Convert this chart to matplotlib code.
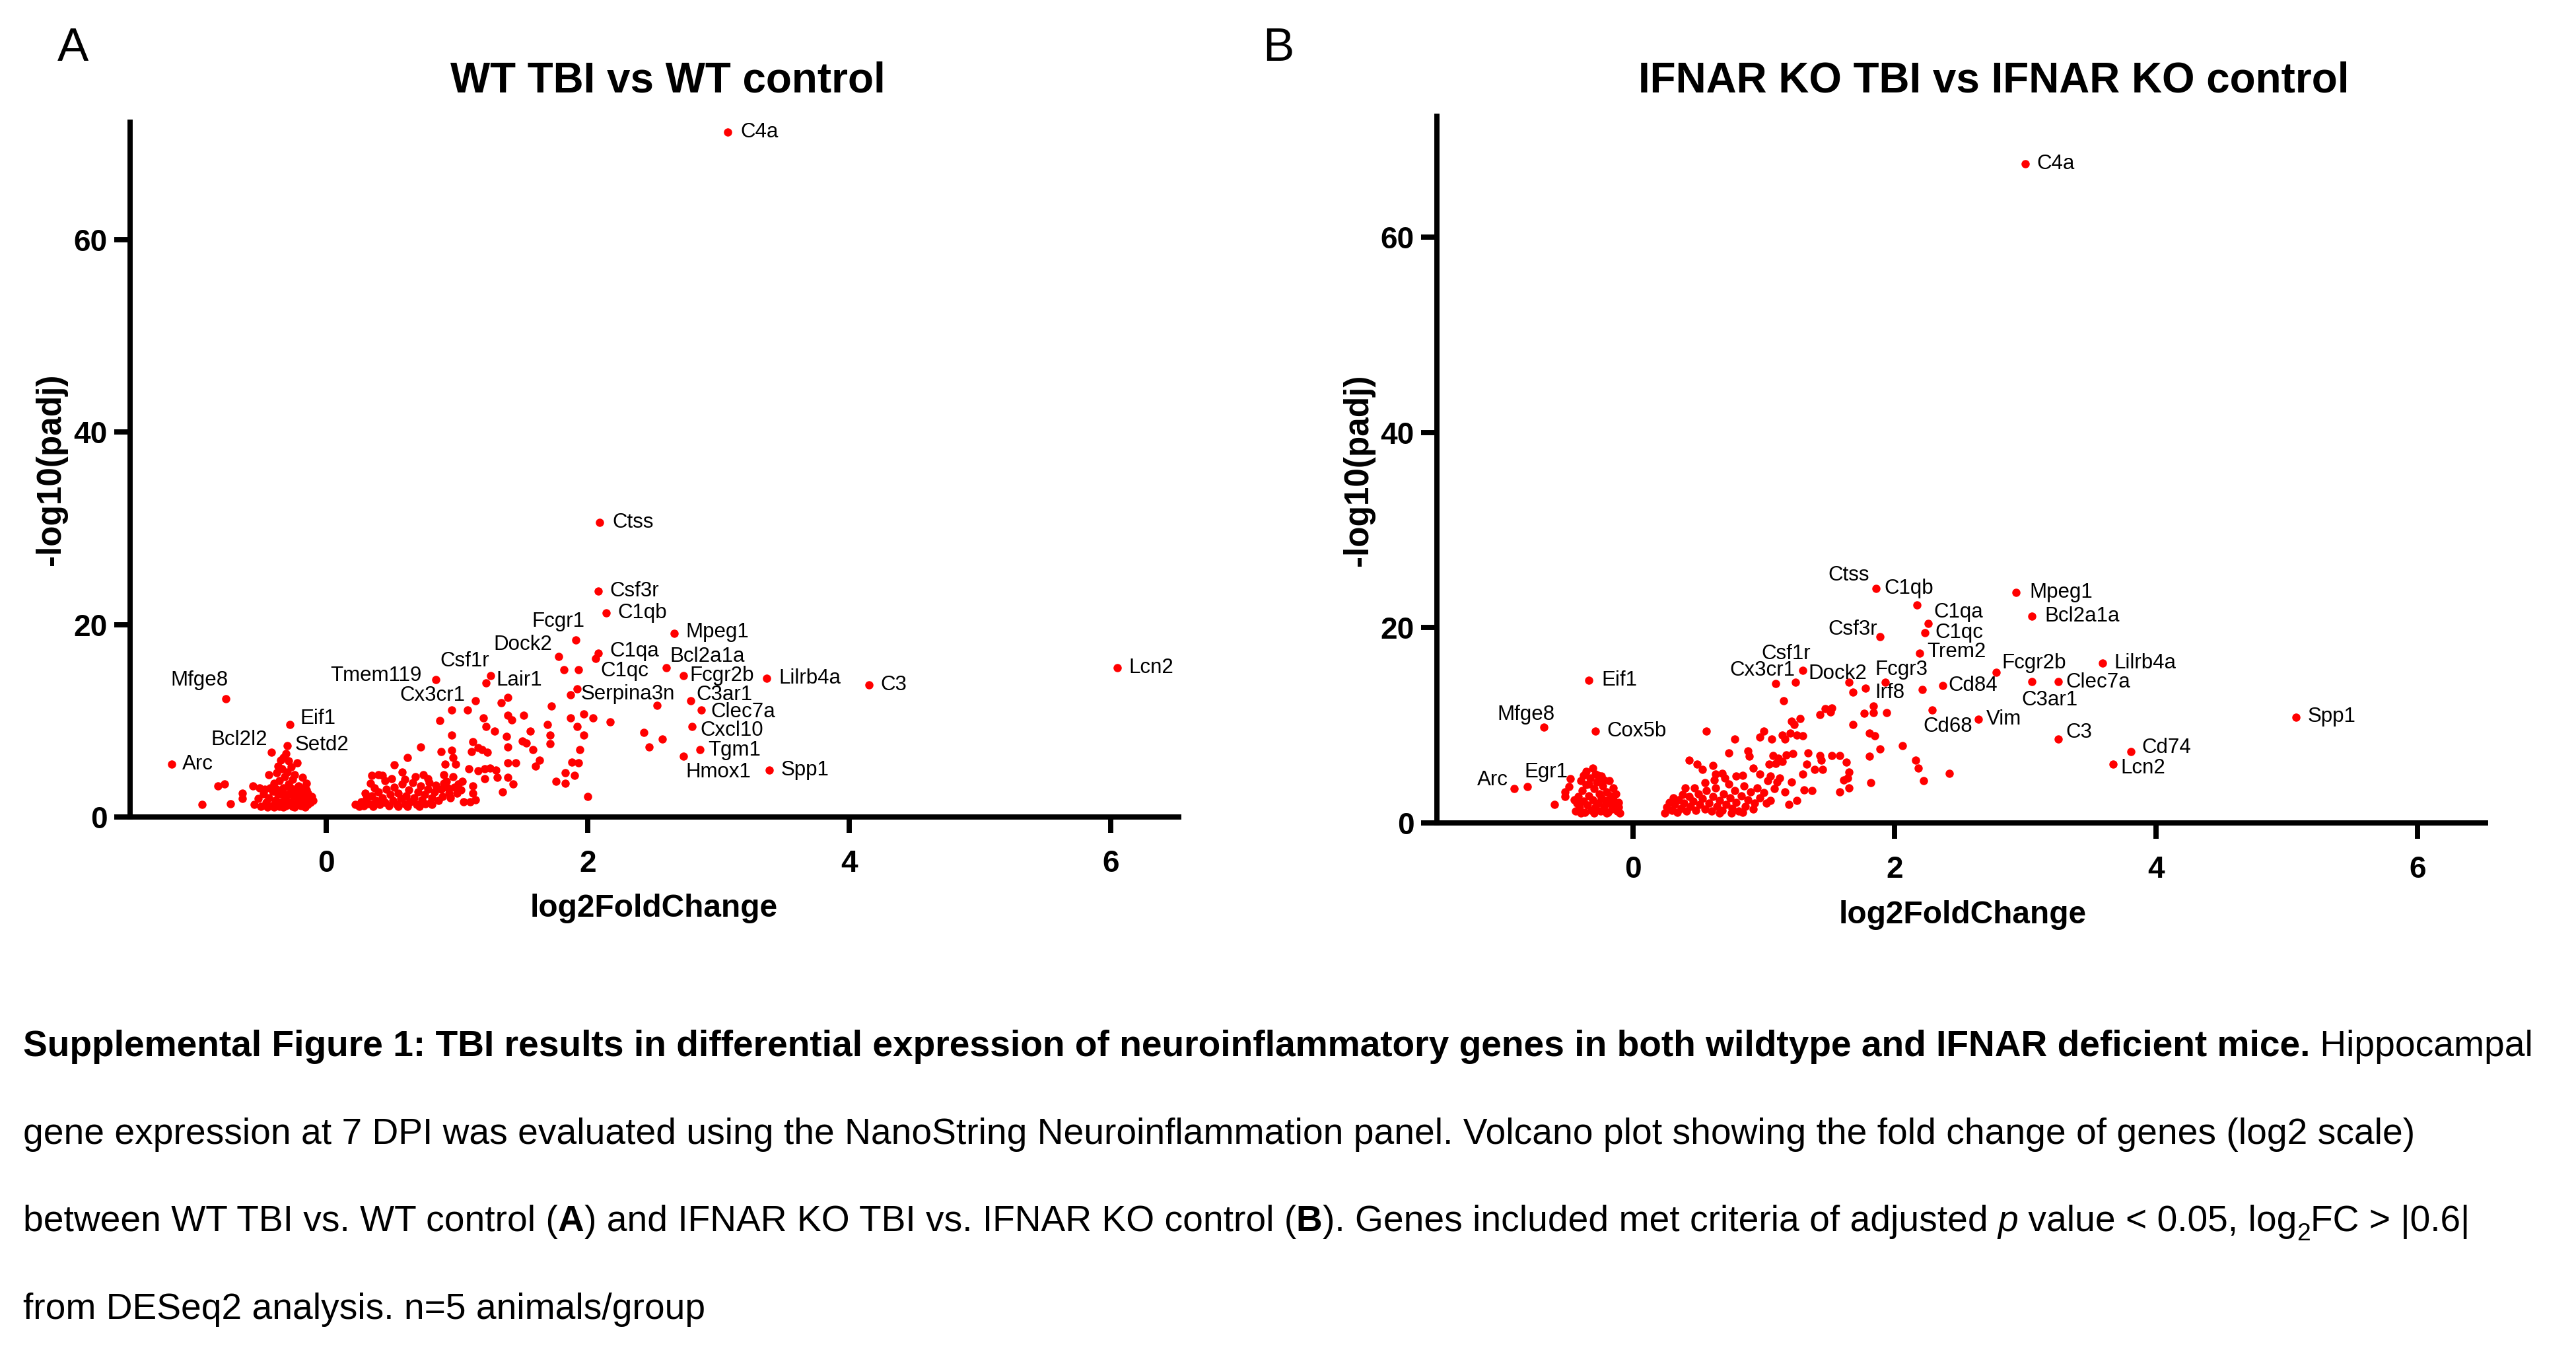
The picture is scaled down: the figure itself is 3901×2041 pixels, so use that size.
import matplotlib
matplotlib.use("Agg")
import matplotlib.pyplot as plt

plt.rcParams['font.family'] = ['Liberation Sans', 'DejaVu Sans']

# ---------------- data: panel A (WT TBI vs WT control) ----------------
a_genes = ['C4a', 'Ctss', 'Csf3r', 'C1qb', 'Fcgr1', 'Mpeg1', 'Dock2', 'C1qa', 'C1qc',
           'Bcl2a1a', 'Fcgr2b', 'Lilrb4a', 'C3', 'Lcn2', 'Csf1r', 'Lair1', 'Tmem119',
           'Cx3cr1', 'Serpina3n', 'C3ar1', 'Clec7a', 'Cxcl10', 'Tgm1', 'Hmox1', 'Spp1',
           'Mfge8', 'Eif1', 'Setd2', 'Bcl2l2', 'Arc']
a_gene_x = [3.07, 2.09, 2.08, 2.14, 1.91, 2.66, 1.78, 2.08, 2.06,
            2.60, 2.73, 3.37, 4.15, 6.05, 1.26, 1.22, 0.84,
            1.14, 1.92, 2.79, 2.87, 2.80, 2.86, 2.73, 3.39,
            -0.77, -0.28, -0.30, -0.42, -1.18]
a_gene_y = [71.2, 30.6, 23.5, 21.2, 18.4, 19.1, 16.7, 17.0, 16.5,
            15.5, 14.7, 14.4, 13.7, 15.5, 14.7, 13.9, 14.3,
            12.1, 13.3, 12.1, 11.1, 9.4, 7.0, 6.3, 4.9,
            12.3, 9.6, 7.4, 6.7, 5.5]
# where each gene name sits (left edge, vertical centre) in data units
a_label_x = [3.17, 2.19, 2.17, 2.23, 1.57, 2.75, 1.28, 2.17, 2.10,
             2.63, 2.78, 3.46, 4.24, 6.14, 0.87, 1.30, 0.03,
             0.56, 1.95, 2.83, 2.94, 2.86, 2.92, 2.75, 3.48,
             -1.19, -0.20, -0.24, -0.88, -1.10]
a_label_y = [71.2, 30.6, 23.5, 21.2, 20.3, 19.2, 17.9, 17.2, 15.2,
             16.7, 14.7, 14.4, 13.7, 15.5, 16.2, 14.2, 14.7,
             12.6, 12.8, 12.7, 10.9, 9.0, 6.9, 4.7, 4.9,
             14.2, 10.2, 7.5, 8.0, 5.5]
a_other = [
    (2.53, 11.6), (2.43, 8.8), (2.57, 8.1), (2.47, 7.3),
    (1.82, 15.3), (1.93, 15.3), (1.87, 12.7), (1.72, 11.5), (2.17, 9.9), (1.97, 10.7),
    (2.04, 10.3), (1.87, 10.3), (1.92, 9.4), (1.97, 8.5), (1.69, 9.6), (1.71, 8.5),
    (1.71, 7.6), (1.94, 7.0), (1.88, 5.7), (1.93, 5.6), (1.83, 4.6), (1.90, 4.3),
    (1.76, 3.7), (1.83, 3.5), (2.00, 2.1),
    (1.51, 10.6), (1.56, 8.9), (1.50, 7.9), (1.53, 7.7), (1.58, 7.0), (1.63, 5.9), (1.60, 5.3),
    (1.39, 10.6), (1.42, 10.1), (1.34, 11.9), (1.39, 12.4), (1.38, 8.4), (1.39, 7.3),
    (1.39, 5.6), (1.45, 5.6), (1.39, 4.1), (1.43, 3.4), (1.35, 2.6),
    (1.29, 8.9), (1.20, 10.3), (1.22, 9.4), (1.08, 11.1), (0.96, 11.1), (0.96, 8.5), (0.87, 10.0),
    (1.12, 7.8), (1.16, 7.2), (1.19, 7.0), (1.23, 6.7), (1.11, 6.8), (0.96, 6.9), (0.97, 6.2),
    (0.88, 6.8), (0.72, 7.3), (0.62, 6.2), (0.91, 5.5), (0.99, 5.5), (1.09, 5.0),
    (1.16, 4.8), (1.21, 5.0), (1.25, 5.1), (1.30, 4.9), (1.21, 4.0), (1.31, 4.1), (1.12, 3.2),
    (1.12, 2.5), (1.10, 1.6), (1.14, 1.8), (1.01, 3.4), (1.04, 3.7), (0.92, 3.7), (0.90, 4.4),
    (0.97, 4.2), (0.89, 2.1), (0.94, 2.5), (0.81, 1.3), (0.74, 4.4), (0.78, 4.0), (0.58, 4.7),
    (0.52, 5.4), (0.40, 4.4), (0.43, 4.3), (0.34, 3.5), (0.35, 4.3),
    (0.22, 1.3), (0.25, 1.1), (0.27, 1.6), (0.29, 1.2), (0.31, 1.9), (0.33, 1.4), (0.35, 2.2),
    (0.36, 1.1), (0.38, 1.7), (0.40, 2.6), (0.41, 1.3), (0.43, 2.0), (0.45, 1.5), (0.46, 2.9),
    (0.48, 1.2), (0.49, 2.3), (0.51, 1.7), (0.52, 3.1), (0.54, 1.3), (0.55, 2.5), (0.57, 1.9),
    (0.58, 3.4), (0.60, 1.4), (0.61, 2.2), (0.63, 2.8), (0.64, 1.6), (0.66, 3.6), (0.67, 2.0),
    (0.69, 1.3), (0.70, 2.6), (0.72, 3.2), (0.73, 1.8), (0.75, 2.3), (0.76, 1.4), (0.78, 2.9),
    (0.79, 3.6), (0.81, 2.0), (0.83, 2.6), (0.84, 3.3), (0.86, 1.7), (0.88, 2.9), (0.90, 3.5),
    (0.93, 3.0), (0.95, 2.0), (0.98, 3.1), (1.00, 2.5), (1.03, 2.8), (1.05, 1.6), (0.60, 3.9),
    (0.68, 4.2), (0.45, 3.8), (0.50, 4.0), (0.30, 2.5), (0.37, 3.0), (0.55, 1.1), (0.62, 1.1),
    (0.71, 1.1), (0.80, 1.5),
    (-0.83, 3.2), (-0.78, 3.4), (-0.95, 1.3), (-0.73, 1.4), (-0.64, 2.5), (-0.64, 1.95),
    (-0.56, 3.2), (-0.51, 3.0), (-0.44, 4.4),
    (-0.35, 5.9), (-0.31, 6.6), (-0.37, 5.3), (-0.22, 5.6), (-0.24, 4.4), (-0.18, 4.1),
    (-0.15, 3.5), (-0.33, 6.2), (-0.29, 5.8), (-0.34, 5.0), (-0.30, 4.7), (-0.27, 5.2),
    (-0.38, 4.6), (-0.32, 4.2), (-0.26, 3.9), (-0.36, 3.8), (-0.29, 3.4), (-0.40, 3.5),
    (-0.21, 3.2), (-0.33, 3.0), (-0.25, 2.9), (-0.43, 3.0), (-0.20, 2.6),
    (-0.55, 1.3), (-0.52, 1.9), (-0.50, 1.1), (-0.48, 2.4), (-0.46, 1.5), (-0.44, 2.0),
    (-0.42, 1.2), (-0.41, 2.7), (-0.39, 1.7), (-0.37, 2.3), (-0.36, 1.1), (-0.35, 1.5),
    (-0.34, 2.6), (-0.32, 1.9), (-0.31, 1.2), (-0.30, 2.3), (-0.28, 1.6), (-0.27, 2.8),
    (-0.26, 1.1), (-0.25, 2.1), (-0.23, 1.4), (-0.22, 2.4), (-0.21, 1.8), (-0.19, 1.2),
    (-0.18, 2.2), (-0.17, 1.6), (-0.15, 2.8), (-0.14, 1.3), (-0.13, 2.0), (-0.12, 1.5),
    (-0.11, 2.1), (-0.10, 1.7), (-0.40, 1.0), (-0.33, 1.0), (-0.24, 1.0), (-0.16, 1.0),
    (-0.47, 2.9), (-0.38, 2.9), (-0.45, 1.0), (-0.28, 3.1), (-0.19, 3.0), (-0.14, 2.5),
]

# ---------------- data: panel B (IFNAR KO TBI vs IFNAR KO control) ----------------
b_genes = ['C4a', 'Ctss', 'C1qb', 'Mpeg1', 'Bcl2a1a', 'C1qa', 'C1qc', 'Csf3r', 'Trem2',
           'Csf1r', 'Cx3cr1', 'Dock2', 'Fcgr3', 'Irf8', 'Cd84', 'Fcgr2b', 'Lilrb4a',
           'C3ar1', 'Clec7a', 'Cd68', 'Vim', 'C3', 'Cd74', 'Lcn2', 'Spp1',
           'Eif1', 'Mfge8', 'Cox5b', 'Egr1', 'Arc']
b_gene_x = [3.00, 1.86, 2.17, 2.93, 3.05, 2.26, 2.23, 1.89, 2.19,
            1.30, 1.09, 1.65, 1.93, 1.78, 2.37, 2.78, 3.59,
            3.05, 3.25, 2.29, 2.64, 3.25, 3.81, 3.67, 5.07,
            -0.34, -0.68, -0.29, -0.81, -0.91]
b_gene_y = [67.5, 24.0, 22.3, 23.6, 21.2, 20.4, 19.5, 19.1, 17.4,
            15.6, 14.3, 14.4, 14.4, 13.8, 14.05, 15.4, 16.4,
            14.5, 14.5, 11.6, 10.6, 8.6, 7.3, 6.0, 10.8,
            14.6, 9.8, 9.4, 3.7, 3.5]
b_label_x = [3.09, 1.49, 1.92, 3.03, 3.15, 2.30, 2.31, 1.49, 2.25,
             0.98, 0.74, 1.34, 1.85, 1.85, 2.41, 2.82, 3.68,
             2.97, 3.31, 2.22, 2.70, 3.31, 3.89, 3.73, 5.16,
             -0.24, -1.04, -0.20, -0.83, -1.19]
b_label_y = [67.5, 25.4, 24.0, 23.6, 21.2, 21.6, 19.5, 19.8, 17.5,
             17.3, 15.6, 15.3, 15.7, 13.3, 14.05, 16.4, 16.4,
             12.6, 14.4, 9.9, 10.6, 9.3, 7.7, 5.6, 10.9,
             14.6, 11.1, 9.4, 5.2, 4.4]
b_other = [
    (1.24, 14.4), (1.15, 12.5), (1.68, 13.4), (2.21, 13.7), (1.84, 12.0), (1.84, 11.3),
    (1.94, 11.3), (1.77, 11.2), (1.68, 10.1), (1.81, 9.2), (1.85, 8.9), (1.89, 7.6),
    (1.81, 6.8), (2.06, 7.9), (2.16, 6.4), (2.18, 5.6), (2.22, 4.3), (2.42, 5.1), (1.82, 4.1),
    (1.43, 11.1), (1.47, 11.7), (1.52, 11.8), (1.51, 11.4), (1.28, 10.7), (1.21, 10.4),
    (1.23, 10.1), (1.00, 9.4), (0.97, 8.8), (1.06, 8.6), (1.14, 9.0), (1.20, 9.2), (1.16, 8.6),
    (1.25, 9.0), (1.30, 8.9), (0.56, 9.4), (0.78, 8.6), (0.73, 7.2), (0.88, 7.4), (0.89, 6.8),
    (1.34, 7.2), (1.43, 6.9), (1.44, 6.4), (1.52, 6.9), (1.58, 6.9), (1.63, 6.2), (1.07, 6.9),
    (1.11, 6.6), (1.17, 7.0), (1.22, 7.1), (1.04, 6.0), (1.09, 6.1), (1.14, 6.3), (1.33, 6.0),
    (1.39, 5.5), (1.45, 5.5), (1.65, 5.2), (1.64, 4.6), (1.61, 4.4), (1.65, 3.6), (1.58, 3.2),
    (1.30, 5.0), (1.31, 3.4), (1.37, 3.3), (1.21, 4.2), (1.16, 3.2), (1.25, 2.3), (1.19, 1.9),
    (1.02, 2.0), (0.92, 1.4), (0.92, 5.6), (0.97, 5.0), (0.43, 6.4), (0.49, 6.0), (0.53, 5.5),
    (0.61, 5.9), (0.63, 5.0), (0.68, 5.1), (0.79, 4.8), (0.84, 4.9), (1.05, 4.8), (1.10, 4.2),
    (0.40, 3.6),
    (0.24, 1.0), (0.26, 1.6), (0.28, 2.1), (0.30, 1.3), (0.32, 1.9), (0.34, 1.1), (0.35, 2.4),
    (0.37, 1.5), (0.39, 2.0), (0.41, 1.2), (0.43, 2.7), (0.44, 1.7), (0.46, 2.2), (0.48, 1.3),
    (0.50, 3.0), (0.51, 1.9), (0.53, 2.5), (0.55, 1.4), (0.56, 3.3), (0.58, 2.0), (0.60, 1.2),
    (0.61, 2.7), (0.63, 3.6), (0.64, 1.7), (0.66, 2.3), (0.68, 1.3), (0.69, 3.0), (0.71, 1.9),
    (0.73, 4.0), (0.74, 2.6), (0.76, 1.5), (0.78, 3.3), (0.79, 2.1), (0.81, 1.2), (0.83, 2.8),
    (0.85, 3.8), (0.86, 1.7), (0.88, 2.4), (0.90, 3.2), (0.93, 2.0), (0.95, 3.6), (0.97, 2.6),
    (1.00, 3.1), (1.03, 4.3), (1.05, 2.3), (1.08, 3.5), (1.12, 4.6), (0.55, 4.1), (0.62, 4.4),
    (0.70, 4.6), (0.47, 3.6), (0.38, 2.9), (0.31, 2.6), (0.66, 1.0), (0.75, 1.0), (0.84, 1.1),
    (-0.60, 1.9), (-0.48, 4.5), (-0.49, 3.7), (-0.52, 3.2), (-0.52, 2.7), (-0.40, 4.3),
    (-0.36, 5.3), (-0.31, 5.6), (-0.29, 5.0), (-0.24, 4.8), (-0.18, 4.3), (-0.15, 3.6),
    (-0.11, 2.1),
    (-0.44, 1.2), (-0.43, 2.0), (-0.42, 2.7), (-0.41, 1.6), (-0.39, 3.3), (-0.38, 2.2),
    (-0.37, 1.1), (-0.36, 3.9), (-0.35, 1.8), (-0.34, 2.8), (-0.33, 4.6), (-0.32, 1.3),
    (-0.31, 2.4), (-0.30, 3.5), (-0.29, 1.6), (-0.28, 4.2), (-0.27, 2.0), (-0.26, 3.0),
    (-0.25, 1.2), (-0.24, 2.6), (-0.23, 3.8), (-0.22, 1.7), (-0.21, 2.3), (-0.20, 3.2),
    (-0.19, 1.1), (-0.18, 2.0), (-0.17, 2.8), (-0.16, 1.4), (-0.15, 2.4), (-0.14, 1.7),
    (-0.13, 3.0), (-0.12, 1.2), (-0.11, 1.6), (-0.10, 1.0), (-0.40, 1.0), (-0.30, 1.0),
    (-0.20, 1.0), (-0.34, 4.0), (-0.27, 4.9), (-0.22, 4.4), (-0.45, 2.4), (-0.38, 4.9),
]

x_ticks = [0, 2, 4, 6]
y_ticks = [0, 20, 40, 60]
titles = ['WT TBI vs WT control', 'IFNAR KO TBI vs IFNAR KO control']
letters = ['A', 'B']

W, H = 3901, 2041
fig = plt.figure(figsize=(W / 300, H / 300), dpi=300)


def px_rect(left, top, right, bottom):
    return [left / W, 1 - bottom / H, (right - left) / W, (bottom - top) / H]


def volcano(ax, gx, gy, names, lx, ly, other, ymax):
    ox = [p[0] for p in other]
    oy = [p[1] for p in other]
    ax.scatter(ox, oy, s=9, color='#ff0000', linewidths=0, zorder=3, clip_on=False)
    ax.scatter(gx, gy, s=9, color='#ff0000', linewidths=0, zorder=3, clip_on=False)
    for n, x, y in zip(names, lx, ly):
        ax.text(x, y, n, fontsize=7.5, ha='left', va='center', zorder=4)
    ax.set_xlim(-1.5, 6.52)
    ax.set_ylim(0, ymax)
    ax.set_xticks(x_ticks)
    ax.set_yticks(y_ticks)
    for s in ['top', 'right']:
        ax.spines[s].set_visible(False)
    for s in ['left', 'bottom']:
        ax.spines[s].set_linewidth(1.9)
    ax.tick_params(axis='both', direction='out', length=5.8, width=1.9, labelsize=11)
    ax.tick_params(axis='x', pad=6)
    ax.tick_params(axis='y', pad=2.5)
    for t in ax.get_xticklabels() + ax.get_yticklabels():
        t.set_fontweight('bold')


axA = fig.add_axes(px_rect(197, 1237 - 72.2 * 14.57, 197 + 1588, 1237))
volcano(axA, a_gene_x, a_gene_y, a_genes, a_label_x, a_label_y, a_other, 72.2)
axB = fig.add_axes(px_rect(2176, 1246 - 72.4 * 14.78, 2176 + 1588, 1246))
volcano(axB, b_gene_x, b_gene_y, b_genes, b_label_x, b_label_y, b_other, 72.4)


def ftext(x, y, s, **kw):
    return fig.text(x / W, 1 - y / H, s, **kw)


# titles, panel letters, axis labels
ftext(1011, 139, titles[0], fontsize=15.3, fontweight='bold', ha='center', va='baseline')
ftext(3019, 139, titles[1], fontsize=15.3, fontweight='bold', ha='center', va='baseline')
ftext(87, 92, letters[0], fontsize=17, ha='left', va='baseline')
ftext(1912, 92, letters[1], fontsize=17, ha='left', va='baseline')
ftext(990, 1375, 'log2FoldChange', fontsize=11.5, fontweight='bold', ha='center', va='center')
ftext(2972, 1385, 'log2FoldChange', fontsize=11.5, fontweight='bold', ha='center', va='center')
ftext(78, 711, '-log10(padj)', fontsize=12.3, fontweight='bold', rotation=90, ha='center', va='center')
ftext(2058, 712, '-log10(padj)', fontsize=12.3, fontweight='bold', rotation=90, ha='center', va='center')

# ---------------- caption ----------------
renderer = fig.canvas.get_renderer()


def run_width(s, **kw):
    t1 = fig.text(0, 0, s + '|', **kw)
    t2 = fig.text(0, 0, '|', **kw)
    w = t1.get_window_extent(renderer).width - t2.get_window_extent(renderer).width
    t1.remove()
    t2.remove()
    return w


caption = [
    [('Supplemental Figure 1: TBI results in differential expression of neuroinflammatory '
      'genes in both wildtype and IFNAR deficient mice.', 'b'), (' Hippocampal', 'n')],
    [('gene expression at 7 DPI was evaluated using the NanoString Neuroinflammation panel. '
      'Volcano plot showing the fold change of genes (log2 scale)', 'n')],
    [('between WT TBI vs. WT control (', 'n'), ('A', 'b'),
     (') and IFNAR KO TBI vs. IFNAR KO control (', 'n'), ('B', 'b'),
     ('). Genes included met criteria of adjusted ', 'n'), ('p', 'i'),
     (' value < 0.05, log', 'n'), ('2', 'sub'), ('FC > |0.6|', 'n')],
    [('from DESeq2 analysis. n=5 animals/group', 'n')],
]

# size the caption so that its first line spans the same width as in the source
w10 = (run_width(caption[0][0][0], fontsize=10, fontweight='bold')
       + run_width(caption[0][1][0], fontsize=10))
cap_size = 10 * 3800 / w10
baselines = [1599, 1732, 1864, 1997]

for line, yb in zip(caption, baselines):
    x = 35
    for s, style in line:
        kw = dict(fontsize=cap_size)
        dy = 0
        if style == 'b':
            kw['fontweight'] = 'bold'
        elif style == 'i':
            kw['fontstyle'] = 'italic'
        elif style == 'sub':
            kw['fontsize'] = cap_size * 0.68
            dy = cap_size * 0.25 * 300 / 72
        ftext(x, yb + dy, s, ha='left', va='baseline', **kw)
        x += run_width(s, **kw)

fig.savefig('out.png', dpi=300)
